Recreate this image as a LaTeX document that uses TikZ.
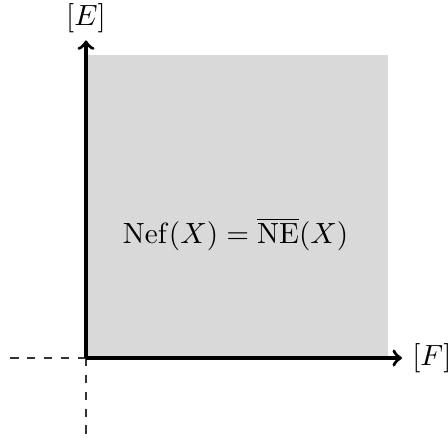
\documentclass[tikz,border=0pt]{standalone}
\usetikzlibrary{positioning}
\usepackage{amsmath}

\begin{document}
\begin{tikzpicture}[
    cone/.style={fill=gray!30, draw=none},
    axis/.style={->, very thick},
    ghost/.style={dashed, black!80}
]
\useasboundingbox (-1.075,-1.04) rectangle (4.525,4.475);

\coordinate (O) at (0,0);
\coordinate (xend) at (3.95,0);
\coordinate (yend) at (0,3.97);
\coordinate (xneg) at (-0.95,0);
\coordinate (yneg) at (0,-0.97);

% nef cone
\fill[cone] (O) rectangle (3.78,3.79);
\node[scale=1.04] (nef) at (1.87,1.55) {$\operatorname{Nef}(X)=\overline{\operatorname{NE}}(X)$};

% negative directions
\draw[ghost] (O) -- (xneg);
\draw[ghost] (O) -- (yneg);

% axes
\draw[axis] (O) -- (xend);
\node[anchor=west, scale=1.04] (labF) at (3.95,0) {$[F]$};

\draw[axis] (O) -- (yend);
\node[scale=1.04] (labE) at (0,4.25) {$[E]$};

\end{tikzpicture}
\end{document}
